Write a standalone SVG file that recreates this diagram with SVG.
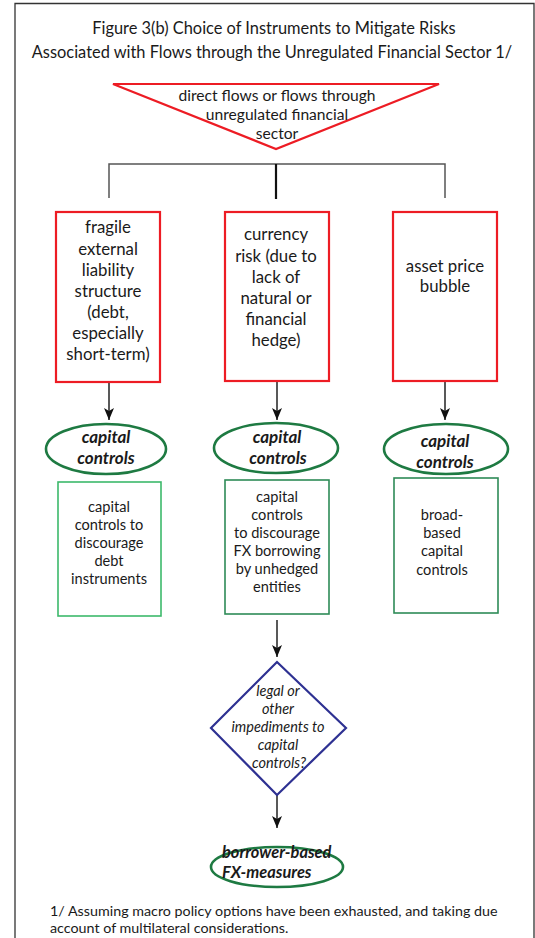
<svg xmlns="http://www.w3.org/2000/svg" width="535" height="938" viewBox="0 0 535 938">
  <defs>
    <marker id="arrow" viewBox="0 0 12 10" refX="12" refY="5" markerWidth="12" markerHeight="10" markerUnits="userSpaceOnUse" orient="auto">
      <path d="M0,0 L3,5 L0,10 L12,5 Z" fill="#111"/>
    </marker>
    <style>
      text { font-family: Lato, "Liberation Sans", Arial, sans-serif; fill: #1a1a1a; text-anchor: middle; }
      .title { font-size: 16.4px; }
      .risk { fill: #fff; stroke: #ed1c24; stroke-width: 2.2; }
      .riskText { font-size: 16.8px; }
      .oval { fill: #fff; stroke: #1e7a42; stroke-width: 2.6; }
      .ovalText { font-size: 17px; font-weight: bold; font-style: italic; }
      .tool { fill: #fff; stroke: #2e8b57; stroke-width: 1.6; }
      .toolText { font-size: 14.6px; }
      .decision { fill: #fff; stroke: #2e3192; stroke-width: 2.2; }
      .decisionText { font-size: 14.5px; font-style: italic; }
      .wire { stroke: #555; stroke-width: 1.5; fill: none; }
      .flow { stroke: #222; stroke-width: 1.5; fill: none; marker-end: url(#arrow); }
      .note { font-size: 14.3px; text-anchor: start; }
    </style>
  </defs>

  <rect x="0" y="0" width="535" height="938" fill="#fff"/>
  <!-- page frame -->
  <path d="M15,938 V3.5 H534 V938" fill="none" stroke="#333" stroke-width="1.3"/>

  <g id="title">
    <text class="title" x="274" y="34">Figure 3(b) Choice of Instruments to Mitigate Risks</text>
    <text class="title" x="272" y="58">Associated with Flows through the Unregulated Financial Sector 1/</text>
  </g>

  <g id="source">
    <polygon points="113,84 439,84 276,149" fill="#fff" stroke="#ed1c24" stroke-width="2.2"/>
    <text x="277" y="101" style="font-size:15.6px">direct flows or flows through</text>
    <text x="277" y="120" style="font-size:15.6px">unregulated financial</text>
    <text x="277" y="139" style="font-size:15.6px">sector</text>
  </g>

  <g id="connectors">
    <path class="wire" d="M109,198 V164 H445 V198"/>
    <line x1="276" y1="164" x2="276" y2="199" stroke="#111" stroke-width="2.2"/>
    <line class="flow" x1="109" y1="382" x2="109" y2="420"/>
    <line class="flow" x1="277" y1="381" x2="277" y2="420"/>
    <line class="flow" x1="445" y1="381" x2="445" y2="420"/>
    <line class="flow" x1="277" y1="620" x2="277" y2="657"/>
    <line class="flow" x1="277" y1="795" x2="277" y2="828"/>
  </g>

  <g id="risk-liability">
    <rect class="risk" x="56" y="212" width="104" height="170"/>
    <text class="riskText" x="108" y="233">fragile</text>
    <text class="riskText" x="108" y="255">external</text>
    <text class="riskText" x="108" y="276">liability</text>
    <text class="riskText" x="108" y="297">structure</text>
    <text class="riskText" x="108" y="318">(debt,</text>
    <text class="riskText" x="108" y="339">especially</text>
    <text class="riskText" x="108" y="360">short-term)</text>
  </g>

  <g id="risk-currency">
    <rect class="risk" x="225" y="212" width="104" height="169"/>
    <text class="riskText" x="276" y="240">currency</text>
    <text class="riskText" x="276" y="262">risk (due to</text>
    <text class="riskText" x="276" y="283">lack of</text>
    <text class="riskText" x="276" y="304">natural or</text>
    <text class="riskText" x="276" y="325">financial</text>
    <text class="riskText" x="276" y="346">hedge)</text>
  </g>

  <g id="risk-bubble">
    <rect class="risk" x="393" y="212" width="104" height="169"/>
    <text class="riskText" x="445" y="272">asset price</text>
    <text class="riskText" x="445" y="292">bubble</text>
  </g>

  <g id="cc-left">
    <ellipse class="oval" cx="106" cy="449" rx="60" ry="25"/>
    <text class="ovalText" x="106" y="443">capital</text>
    <text class="ovalText" x="106" y="464">controls</text>
  </g>

  <g id="cc-middle">
    <ellipse class="oval" cx="276" cy="448" rx="62" ry="25"/>
    <text class="ovalText" x="277" y="443">capital</text>
    <text class="ovalText" x="278" y="464">controls</text>
  </g>

  <g id="cc-right">
    <ellipse class="oval" cx="446" cy="449" rx="62" ry="25"/>
    <text class="ovalText" x="445" y="447">capital</text>
    <text class="ovalText" x="445" y="468">controls</text>
  </g>

  <g id="tool-debt">
    <rect class="tool" x="58" y="482" width="103" height="134" style="stroke:#3cb96b"/>
    <text class="toolText" x="109" y="512">capital</text>
    <text class="toolText" x="109" y="530">controls to</text>
    <text class="toolText" x="109" y="548">discourage</text>
    <text class="toolText" x="109" y="566">debt</text>
    <text class="toolText" x="109" y="584">instruments</text>
  </g>

  <g id="tool-fx">
    <rect class="tool" x="225" y="480" width="104" height="134"/>
    <text class="toolText" x="277" y="502">capital</text>
    <text class="toolText" x="277" y="520">controls</text>
    <text class="toolText" x="277" y="538">to discourage</text>
    <text class="toolText" x="277" y="556">FX borrowing</text>
    <text class="toolText" x="277" y="574">by unhedged</text>
    <text class="toolText" x="277" y="592">entities</text>
  </g>

  <g id="tool-broad">
    <rect class="tool" x="394" y="478" width="104" height="135"/>
    <text class="toolText" x="442" y="520">broad-</text>
    <text class="toolText" x="442" y="538">based</text>
    <text class="toolText" x="442" y="556">capital</text>
    <text class="toolText" x="442" y="575">controls</text>
  </g>

  <g id="impediments">
    <polygon class="decision" points="277,662 346,728 277,795 211,728"/>
    <text class="decisionText" x="278" y="696">legal or</text>
    <text class="decisionText" x="278" y="714">other</text>
    <text class="decisionText" x="278" y="732">impediments to</text>
    <text class="decisionText" x="278" y="750">capital</text>
    <text class="decisionText" x="279" y="768">controls?</text>
  </g>

  <g id="borrower-fx">
    <ellipse class="oval" cx="277" cy="867" rx="66" ry="20"/>
    <text class="ovalText" x="222" y="858" style="text-anchor:start;font-size:16.4px">borrower-based</text>
    <text class="ovalText" x="222" y="878" style="text-anchor:start;font-size:16.4px">FX-measures</text>
  </g>

  <g id="footnote">
    <text class="note" x="50" y="916">1/ Assuming macro policy options have been exhausted, and taking due</text>
    <text class="note" x="50" y="933">account of multilateral considerations.</text>
  </g>
</svg>
